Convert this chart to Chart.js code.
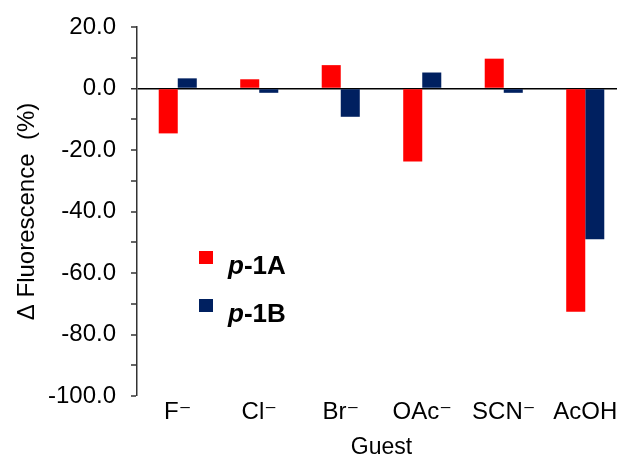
<!DOCTYPE html>
<html>
<head>
<meta charset="utf-8">
<script src="https://cdn.jsdelivr.net/npm/chart.js@4/dist/chart.umd.min.js"></script>
<style>
  html, body { margin: 0; padding: 0; background: #fff; overflow: hidden; }
  #wrap { width: 617px; height: 459px; overflow: hidden; }
</style>
</head>
<body>
<div id="wrap"><canvas id="chart" width="640" height="459"></canvas></div>
<script>
const guests = ['F\u207B', 'Cl\u207B', 'Br\u207B', 'OAc\u207B', 'SCN\u207B', 'AcOH'];
const p1A = [-14.6, 3.0, 7.6, -23.7, 9.7, -72.6];
const p1B = [3.3, -1.4, -9.2, 5.2, -1.4, -49.0];
const seriesNames = ['p-1A', 'p-1B'];
const yTicks = [-100, -80, -60, -40, -20, 0, 20];

const FONT = "'Liberation Sans', Arial, 'DejaVu Sans', sans-serif";

// legend drawn inside the plot: italic p, bold rest
const legendInPlot = {
  id: 'legendInPlot',
  afterDraw(chart) {
    const ctx = chart.ctx;
    ctx.save();
    chart.data.datasets.forEach((ds, i) => {
      const y = 251 + i * 48;
      ctx.fillStyle = ds.backgroundColor;
      ctx.fillRect(199, y, 14, 13);
      const name = ds.label;
      ctx.fillStyle = '#000';
      ctx.textBaseline = 'alphabetic';
      ctx.font = 'italic bold 26px ' + FONT;
      ctx.fillText(name[0], 228, y + 23);
      const w = ctx.measureText(name[0]).width;
      ctx.font = 'bold 26px ' + FONT;
      ctx.fillText(name.slice(1), 228 + w, y + 23);
    });
    ctx.restore();
  }
};

new Chart(document.getElementById('chart'), {
  type: 'bar',
  data: {
    labels: guests,
    datasets: [
      { label: seriesNames[0], data: p1A, backgroundColor: '#FF0000' },
      { label: seriesNames[1], data: p1B, backgroundColor: '#002060' }
    ]
  },
  options: {
    responsive: false,
    animation: false,
    devicePixelRatio: 1,
    layout: { padding: { top: 25, right: 14, left: 0, bottom: 0 } },
    datasets: { bar: { categoryPercentage: 0.467, barPercentage: 1.0 } },
    plugins: { legend: { display: false }, tooltip: { enabled: false } },
    scales: {
      x: {
        grid: { display: false, drawTicks: false },
        border: { display: false },
        ticks: { color: '#000', font: { family: FONT, size: 24 }, padding: 2, maxRotation: 0, autoSkip: false },
        title: { display: true, text: 'Guest', color: '#000', font: { family: FONT, size: 23, lineHeight: 1 }, padding: 0 },
        afterFit(s) { s.height = 63; }
      },
      y: {
        min: yTicks[0],
        max: yTicks[yTicks.length - 1],
        ticks: {
          stepSize: 10,
          color: '#000',
          padding: 15,
          font: { family: FONT, size: 24, lineHeight: 1 },
          callback: v => (yTicks.includes(v) ? v.toFixed(1) : '')
        },
        grid: {
          drawTicks: true,
          tickLength: 6,
          tickColor: '#333',
          tickWidth: 1.5,
          color: c => (c.tick && c.tick.value === 0 ? '#000' : 'rgba(0,0,0,0)'),
          lineWidth: c => (c.tick && c.tick.value === 0 ? 1.5 : 0)
        },
        border: { display: true, color: '#333', width: 1.5 },
        title: { display: true, text: '\u0394 Fluorescence  (%)', color: '#000', font: { family: FONT, size: 24 }, padding: { top: 13, bottom: 0 } },
        afterFit(s) { s.width = 137; }
      }
    }
  },
  plugins: [legendInPlot]
});
</script>
</body>
</html>
